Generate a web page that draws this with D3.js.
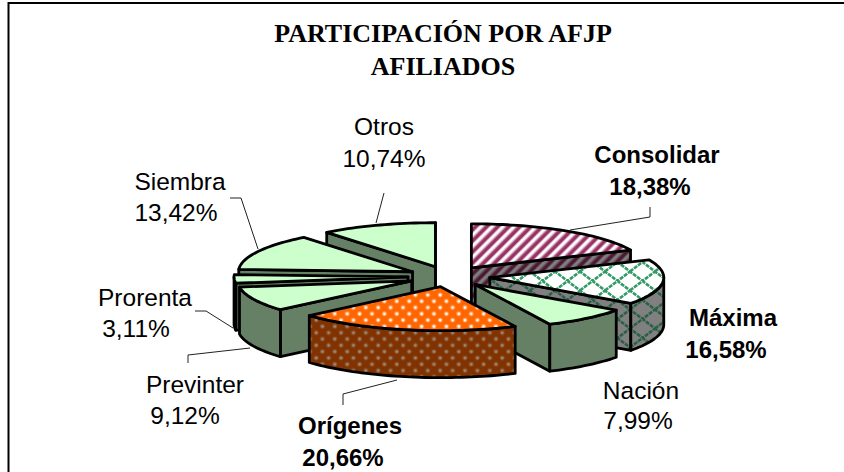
<!DOCTYPE html>
<html>
<head>
<meta charset="utf-8">
<script src="https://cdn.jsdelivr.net/npm/d3@7/dist/d3.min.js"></script>
<style>
html,body{margin:0;padding:0;background:#fff;}
svg{display:block;}
text{font-family:"Liberation Sans",Arial,sans-serif;font-size:24.5px;fill:#000;text-anchor:middle;}
.bold{font-weight:bold;font-size:24px;}
.title{font-family:"Liberation Serif","Times New Roman",serif;font-weight:bold;font-size:26px;}
</style>
</head>
<body>
<svg id="c" width="844" height="472"></svg>
<script>
const titleLines = ["PARTICIPACIÓN POR AFJP", "AFILIADOS"];
const categories = ["Consolidar","Máxima","Nación","Orígenes","Previnter","Prorenta","Siembra","Otros"];
const shares = [18.38,16.58,7.99,20.66,9.12,3.11,13.42,10.74];
const shareLabels = ["18,38%","16,58%","7,99%","20,66%","9,12%","3,11%","13,42%","10,74%"];
const boldLabels = ["Consolidar","Máxima","Orígenes"];

// presentation
const fills = {
  Consolidar:"stripe", "Máxima":"trellis", "Nación":"plain", "Orígenes":"dots",
  Previnter:"plain", Prorenta:"plain", Siembra:"plain", Otros:"plain"
};
const labelPos = {
  Consolidar:[[657,163],[650,195]],
  "Máxima":[[733,326],[726,358]],
  "Nación":[[641,399],[638,429]],
  "Orígenes":[[350,434],[343,466]],
  Previnter:[[195,393],[185,424]],
  Prorenta:[[145,306],[136,337]],
  Siembra:[[180,190],[176,221]],
  Otros:[[384,135],[384,167]]
};
const leaders = [
  [[650,207],[650,217],[570,230]],
  [[343,405],[343,394],[397,380]],
  [[188,363],[188,355],[250,348]],
  [[195,311],[206,311],[233,328]],
  [[230,198],[241,198],[258,249]],
  [[384,193],[376,223]]
];

const svg = d3.select("#c");
const defs = svg.append("defs");

function stripe(id, bg, fg){
  const grad = defs.append("linearGradient").attr("id",id+"G");
  [[0,bg],[0.25,bg],[0.55,fg],[0.85,fg],[1,bg]].forEach(d=>
    grad.append("stop").attr("offset",d[0]).attr("stop-color",d[1]));
  const p = defs.append("pattern").attr("id",id).attr("patternUnits","userSpaceOnUse")
    .attr("width",7.8).attr("height",7.8).attr("patternTransform","rotate(45)");
  p.append("rect").attr("width",7.8).attr("height",7.8).attr("fill","url(#"+id+"G)");
}
function trellis(id, bg, fg){
  const p = defs.append("pattern").attr("id",id).attr("patternUnits","userSpaceOnUse")
    .attr("width",25).attr("height",19).attr("x",480).attr("y",262);
  p.append("rect").attr("width",25).attr("height",19).attr("fill",bg);
  p.append("path").attr("d","M0,9.5L12.5,0L25,9.5L12.5,19Z").attr("fill","none")
    .attr("stroke",fg).attr("stroke-width",2.6).attr("stroke-dasharray","4 1");
}
function dots(id, bg, fg){
  const p = defs.append("pattern").attr("id",id).attr("patternUnits","userSpaceOnUse")
    .attr("width",12.4).attr("height",12.6).attr("x",400).attr("y",292);
  p.append("rect").attr("width",12.4).attr("height",12.6).attr("fill",bg);
  [[3,3],[9.2,9.3]].forEach(d=>{
    p.append("circle").attr("cx",d[0]).attr("cy",d[1]).attr("r",2.4).attr("fill",fg).attr("opacity",0.35);
    p.append("circle").attr("cx",d[0]).attr("cy",d[1]).attr("r",1.4).attr("fill",fg);
  });
}
stripe("stripeTop","#ffffff","#993366");
stripe("stripeWall","#808080","#4d1a33");
trellis("trellisTop","#ffffff","#339966");
trellis("trellisWall","#808080","#2a6045");
dots("dotsTop","#ff6600","#ffffff");
dots("dotsWall","#803300","#a08878");

const topFill = {stripe:"url(#stripeTop)",trellis:"url(#trellisTop)",dots:"url(#dotsTop)",plain:"#ccffcc"};
const wallFill = {stripe:"url(#stripeWall)",trellis:"url(#trellisWall)",dots:"url(#dotsWall)",plain:"#668066"};

// frame
svg.append("path").attr("d","M8.5,472V3H844").attr("fill","none").attr("stroke","#000").attr("stroke-width",2);

// title
svg.selectAll("text.title").data(titleLines).join("text").attr("class","title")
  .attr("x",443).attr("y",(d,i)=>42+i*33).text(d=>d);

// projection of the tilted pie
const cx=449, cy=276.5, rx=174, ry=44, depth=47, explode=0.2356;
const X = d3.scaleLinear().domain([-1,1]).range([cx-rx,cx+rx]);
const Y = d3.scaleLinear().domain([-1,1]).range([cy-ry,cy+ry]);
const pie = d3.pie().sort(null).value(d=>d.v);
const slices = pie(categories.map((c,i)=>({c,v:shares[i]})))
  .map(s=>({...s, mid:(s.startAngle+s.endAngle)/2}))
  .sort((a,b)=>Math.cos(b.mid)-Math.cos(a.mid));

const line = d3.line();
function pt(s,a,r,dz){
  const ex=explode*Math.sin(s.mid), ey=-explode*Math.cos(s.mid);
  return [X(ex+r*Math.sin(a)), Y(ey-r*Math.cos(a))+dz];
}
function arcPts(s,a0,a1,dz){
  const n=Math.max(2,Math.ceil((a1-a0)/0.03));
  return d3.range(n+1).map(i=>pt(s,a0+(a1-a0)*i/n,1,dz));
}
const g = svg.append("g").attr("stroke","#000").attr("stroke-width",2.8).attr("stroke-linejoin","round");
slices.forEach(s=>{
  const kind = fills[s.data.c];
  const a0=s.startAngle, a1=s.endAngle;
  const wall=(pts)=>g.append("path").attr("d",line(pts)+"Z").attr("fill",wallFill[kind]);
  if(Math.sin(a1)>0) wall([pt(s,a1,0,0),pt(s,a1,1,0),pt(s,a1,1,depth),pt(s,a1,0,depth)]);
  if(Math.sin(a0)<0) wall([pt(s,a0,0,0),pt(s,a0,1,0),pt(s,a0,1,depth),pt(s,a0,0,depth)]);
  const lo=Math.max(a0,Math.PI/2), hi=Math.min(a1,3*Math.PI/2);
  if(hi>lo) wall(arcPts(s,lo,hi,0).concat(arcPts(s,lo,hi,depth).reverse()));
  g.append("path").attr("d",line([pt(s,a0,0,0)].concat(arcPts(s,a0,a1,0)))+"Z").attr("fill",topFill[kind]);
});

// leader lines
svg.selectAll("path.leader").data(leaders).join("path").attr("class","leader")
  .attr("d",d=>line(d)).attr("fill","none").attr("stroke","#222").attr("stroke-width",1);

// labels
categories.forEach((c,i)=>{
  const pos=labelPos[c], cls=boldLabels.includes(c)?"bold":null;
  [c,shareLabels[i]].forEach((t,j)=>{
    svg.append("text").attr("class",cls).attr("x",pos[j][0]).attr("y",pos[j][1]).text(t);
  });
});
</script>
</body>
</html>
